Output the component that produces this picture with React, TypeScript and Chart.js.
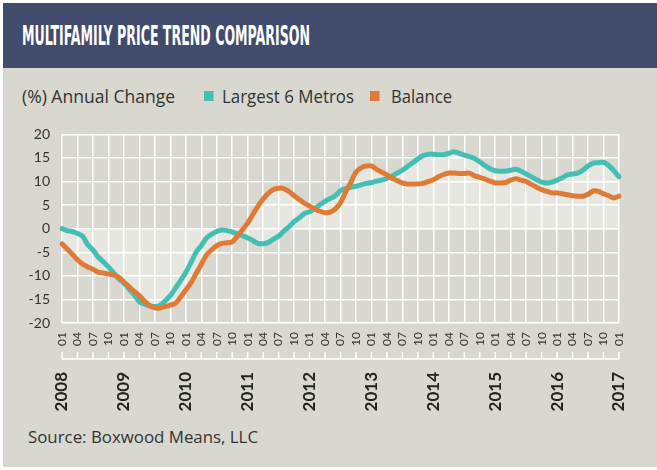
import React, { useEffect, useRef } from "react";
import { Chart, registerables } from "chart.js";

Chart.register(...registerables);

const YEARS = ["2008", "2009", "2010", "2011", "2012", "2013", "2014", "2015", "2016", "2017"];
const MONTHS = ["01", "02", "03", "04", "05", "06", "07", "08", "09", "10", "11", "12"];
const QUARTER_MONTHS = ["01", "04", "07", "10"];

const CATEGORIES: string[] = [];
YEARS.forEach((y, yi) => {
  MONTHS.forEach((m, mi) => {
    if (yi < YEARS.length - 1 || mi === 0) CATEGORIES.push(y + "-" + m);
  });
});

const LARGEST_6_METROS = [
  0, -0.4, -0.6, -1.0, -1.6, -3.4, -4.5, -6.0, -7.0, -8.1, -9.3, -10.6,
  -11.5, -12.8, -14.0, -15.5, -16.0, -16.4, -16.5, -16.3, -15.3, -14.2, -12.6, -11.0,
  -9.3, -7.2, -5.0, -3.6, -2.0, -1.2, -0.6, -0.3, -0.4, -0.7, -1.1, -1.5,
  -1.9, -2.5, -3.1, -3.2, -2.9, -2.2, -1.6, -0.5, 0.4, 1.5, 2.3, 3.2,
  3.6, 4.2, 5.1, 5.8, 6.4, 7.0, 8.1, 8.5, 8.8, 9.0, 9.3, 9.6,
  9.8, 10.1, 10.3, 10.7, 11.2, 11.8, 12.4, 13.2, 14.0, 14.8, 15.5, 15.8,
  15.8, 15.7, 15.7, 16.0, 16.3, 16.0, 15.6, 15.3, 14.9, 14.2, 13.4, 12.7,
  12.3, 12.2, 12.2, 12.4, 12.6, 12.2, 11.6, 11.0, 10.4, 9.9, 9.7, 9.9,
  10.3, 10.8, 11.4, 11.6, 11.8, 12.4, 13.3, 13.9, 14.0, 14.1, 13.4, 12.3,
  11.0,
];

const BALANCE = [
  -3.2, -4.3, -5.4, -6.6, -7.5, -8.1, -8.6, -9.2, -9.4, -9.6, -9.8, -10.3,
  -11.3, -12.3, -13.3, -14.2, -15.4, -16.3, -16.8, -16.8, -16.5, -16.2, -15.8, -14.5,
  -13.0, -11.5, -9.5, -7.6, -5.6, -4.5, -3.6, -3.1, -3.0, -2.8, -1.6, -0.2,
  1.2, 3.0, 4.8, 6.3, 7.5, 8.3, 8.6, 8.5, 7.9, 7.0, 6.2, 5.4,
  4.8, 4.2, 3.7, 3.4, 3.5, 4.2, 5.5, 7.8, 9.8, 12.0, 12.9, 13.3,
  13.3, 12.6, 12.0, 11.4, 10.7, 10.2, 9.7, 9.5, 9.5, 9.5, 9.6, 10.0,
  10.4, 11.0, 11.5, 11.8, 11.8, 11.7, 11.7, 11.8, 11.2, 10.9, 10.5, 10.1,
  9.7, 9.7, 9.8, 10.3, 10.6, 10.3, 10.0, 9.4, 8.8, 8.3, 7.9, 7.6,
  7.6, 7.4, 7.2, 7.0, 6.9, 6.9, 7.3, 8.0, 7.9, 7.4, 7.0, 6.5,
  6.9,
];

const Y_MIN = -20;
const Y_MAX = 20;
const Y_STEP = 5;

const TEAL = "#45bfb4";
const ORANGE = "#e07a37";
const BG = "#d9d8d0";
const NAVY = "#414b6b";
const FILL = "#e7e7e1";
const TEXT = "#333333";

const axisLinePlugin = {
  id: "axisLine",
  afterDraw(chart: any) {
    const xs = chart.scales.x;
    const ctx = chart.ctx;
    const yb = xs.bottom;
    ctx.save();
    ctx.strokeStyle = "#ffffff";
    ctx.lineWidth = 1.5;
    ctx.beginPath();
    ctx.moveTo(xs.left, yb);
    ctx.lineTo(xs.right, yb);
    for (let i = 0; i < CATEGORIES.length; i++) {
      if (QUARTER_MONTHS.includes(CATEGORIES[i].slice(5))) {
        const px = xs.getPixelForValue(i);
        ctx.moveTo(px, yb);
        ctx.lineTo(px, yb - 7);
      }
    }
    ctx.stroke();
    ctx.restore();
  },
};

function ChartCanvas() {
  const ref = useRef<HTMLCanvasElement | null>(null);
  useEffect(() => {
    if (!ref.current) return;
    const chart = new Chart(ref.current, {
      type: "line",
      data: {
        labels: CATEGORIES,
        datasets: [
          {
            label: "Largest 6 Metros",
            data: LARGEST_6_METROS,
            borderColor: TEAL,
            backgroundColor: FILL,
            borderWidth: 5,
            pointRadius: 0,
            tension: 0.25,
            fill: "origin",
            borderCapStyle: "round",
            borderJoinStyle: "round",
            order: 1,
          },
          {
            label: "Balance",
            data: BALANCE,
            borderColor: ORANGE,
            backgroundColor: FILL,
            borderWidth: 5,
            pointRadius: 0,
            tension: 0.25,
            fill: "origin",
            borderCapStyle: "round",
            borderJoinStyle: "round",
            order: 0,
          },
        ],
      },
      options: {
        responsive: false,
        animation: false,
        devicePixelRatio: 1,
        layout: { padding: { top: 7, right: 38, left: 0, bottom: 5 } },
        plugins: {
          legend: { display: false },
          tooltip: { enabled: false },
          filler: { drawTime: "beforeDraw" },
        } as any,
        scales: {
          x: {
            type: "category",
            offset: false,
            grid: {
              color: (c: any) =>
                QUARTER_MONTHS.includes(CATEGORIES[c.index]?.slice(5)) ? "#ffffff" : "rgba(0,0,0,0)",
              lineWidth: 1.5,
              drawTicks: false,
            },
            border: { display: false },
            ticks: {
              autoSkip: false,
              maxRotation: 90,
              minRotation: 90,
              padding: 9,
              color: TEXT,
              font: { family: "Lato", size: 12 },
              callback: (v: any, i: number) => {
                const m = CATEGORIES[i].slice(5);
                return QUARTER_MONTHS.includes(m) ? m : "";
              },
            },
            afterFit: (s: any) => {
              s.height = 36;
            },
          },
          x2: {
            type: "category",
            position: "bottom",
            offset: false,
            grid: { display: false, drawOnChartArea: false, drawTicks: false },
            border: { display: false },
            ticks: {
              autoSkip: false,
              maxRotation: 90,
              minRotation: 90,
              padding: 13,
              color: "#222222",
              font: { family: "Lato", size: 17, weight: "bold" },
              callback: (v: any, i: number) => {
                const c = CATEGORIES[i];
                return c.slice(5) === "01" ? c.slice(0, 4) : "";
              },
            },
            afterFit: (s: any) => {
              s.height = 56;
            },
          },
          y: {
            min: Y_MIN,
            max: Y_MAX,
            ticks: {
              stepSize: Y_STEP,
              padding: 12,
              color: TEXT,
              font: { family: "Lato", size: 14 },
            },
            grid: { color: "#ffffff", lineWidth: 1.5, drawTicks: false },
            border: { display: false },
            afterFit: (s: any) => {
              s.width = 62;
            },
          },
        } as any,
      },
      plugins: [axisLinePlugin],
    });
    return () => chart.destroy();
  }, []);
  return (
    <canvas
      ref={ref}
      width={657}
      height={306}
      style={{ position: "absolute", left: 0, top: 114, width: 657, height: 306 }}
    />
  );
}

export default function App() {
  const textFont = "'Open Sans', 'Noto Sans', sans-serif";
  return (
    <div style={{ position: "fixed", left: 0, top: 0, width: 657, height: 470, background: "#ffffff", overflow: "hidden" }}>
      <div style={{ position: "absolute", left: 3, top: 3, width: 654, height: 464, background: BG }} />
      <div style={{ position: "absolute", left: 3, top: 3, width: 654, height: 65, background: NAVY }} />
      <svg width={657} height={470} style={{ position: "absolute", left: 0, top: 0 }}>
        <text
          x={22}
          y={45}
          fill="#ffffff"
          fontFamily="'Liberation Sans Narrow', 'DejaVu Sans Condensed', sans-serif"
          fontWeight="bold"
          fontSize={27}
          textLength={288}
          lengthAdjust="spacingAndGlyphs"
        >
          MULTIFAMILY PRICE TREND COMPARISON
        </text>
        <text x={22} y={103} fill={TEXT} fontFamily={textFont} fontSize={18} textLength={153} lengthAdjust="spacingAndGlyphs">
          (%) Annual Change
        </text>
        <rect x={204} y={91} width={9.5} height={10} fill={TEAL} />
        <text x={222} y={103} fill={TEXT} fontFamily={textFont} fontSize={18} textLength={132} lengthAdjust="spacingAndGlyphs">
          Largest 6 Metros
        </text>
        <rect x={370} y={91} width={9.5} height={10} fill={ORANGE} />
        <text x={391} y={103} fill={TEXT} fontFamily={textFont} fontSize={18} textLength={61} lengthAdjust="spacingAndGlyphs">
          Balance
        </text>
        <text x={28} y={443} fill={TEXT} fontFamily={textFont} fontSize={16} textLength={230} lengthAdjust="spacingAndGlyphs">
          Source: Boxwood Means, LLC
        </text>
      </svg>
      <ChartCanvas />
    </div>
  );
}
